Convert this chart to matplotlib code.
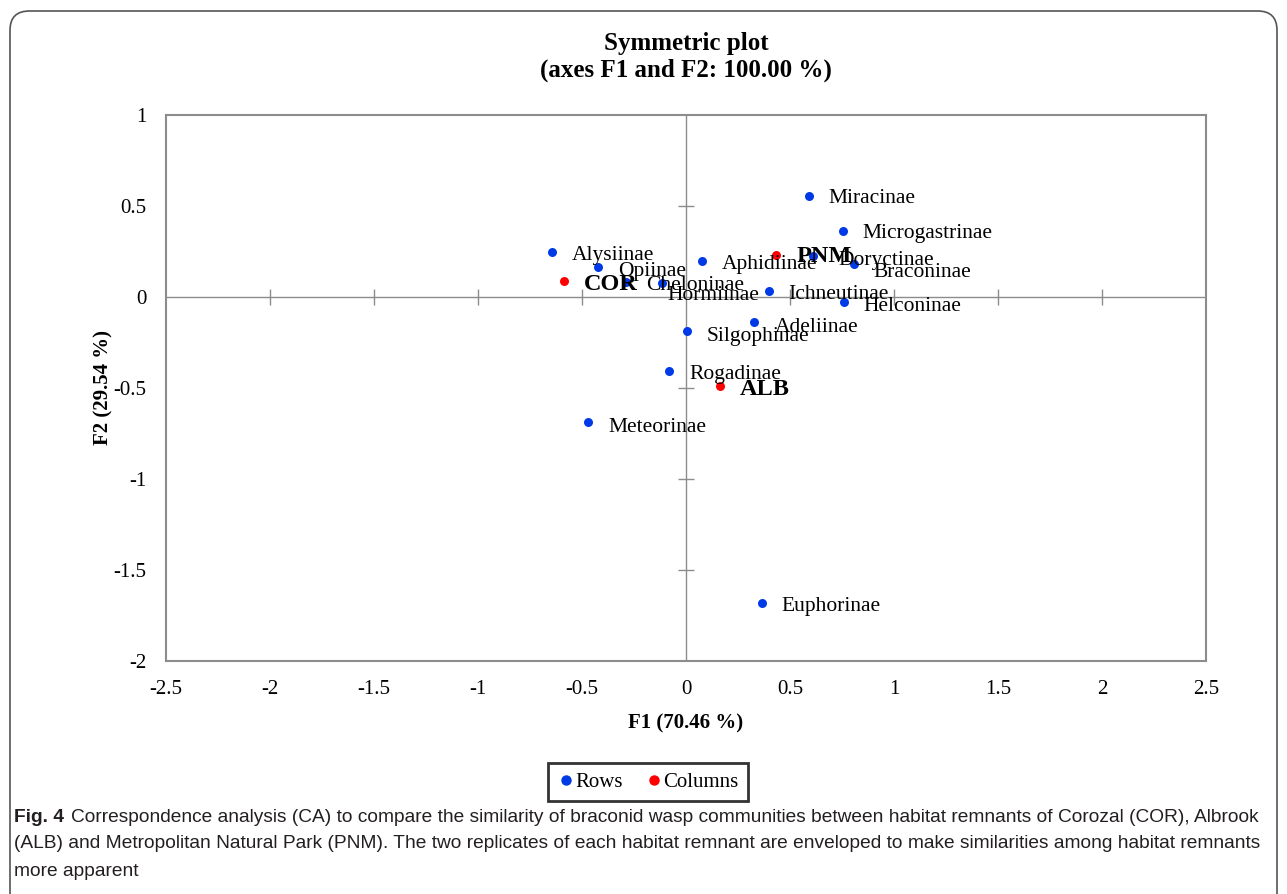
import numpy as np
import matplotlib
matplotlib.use('Agg')
import matplotlib.pyplot as plt
from matplotlib.patches import FancyBboxPatch
from matplotlib.lines import Line2D

# row points (subfamilies)
row_names = ['Miracinae', 'Microgastrinae', 'Alysiinae', 'Opiinae', 'Aphidiinae',
             'Doryctinae', 'Braconinae', 'Cheloninae', 'Hormiinae', 'Ichneutinae',
             'Helconinae', 'Adeliinae', 'Silgophinae', 'Rogadinae', 'Meteorinae',
             'Euphorinae']
row_f1 = [0.591, 0.753, -0.646, -0.422, 0.075, 0.611, 0.808, -0.288, -0.117, 0.399,
          0.761, 0.327, 0.005, -0.082, -0.471, 0.365]
row_f2 = [0.557, 0.364, 0.246, 0.166, 0.199, 0.225, 0.181, 0.084, 0.079, 0.033,
          -0.029, -0.139, -0.187, -0.407, -0.687, -1.681]

# column points (habitat remnants)
col_names = ['PNM', 'COR', 'ALB']
col_f1 = [0.433, -0.587, 0.163]
col_f2 = [0.232, 0.088, -0.489]

xticks = [-2.5, -2, -1.5, -1, -0.5, 0, 0.5, 1, 1.5, 2, 2.5]
yticks = [-2, -1.5, -1, -0.5, 0, 0.5, 1]

# label offsets in pixels (label placement as in the original)
row_off = [(20, -3), (20, -3), (20, -3), (20, -5), (20, -4), (25, -4), (19, -8),
           (20, -4), (6, -13), (19, -4), (19, -4), (21, -5), (20, -5), (20, -3),
           (20, -5), (20, -4)]
col_off = [(20, -2), (20, -4), (20, -4)]

blue = '#0039e6'
red = '#ff0000'
grey = '#8c8c8c'
serif = ['Liberation Serif', 'DejaVu Serif']
cap_font = ['Liberation Sans', 'DejaVu Sans']

fig = plt.figure(figsize=(12.87, 8.94), dpi=100)
ax = fig.add_axes([166 / 1287, 1 - 661 / 894, 1040 / 1287, 546 / 894])

ax.set_xlim(-2.5, 2.5)
ax.set_ylim(-2, 1)
ax.set_xticks(xticks)
ax.set_yticks(yticks)
ax.set_xticklabels([f'{t:g}' for t in xticks], fontfamily=serif, fontsize=15)
ax.set_yticklabels([f'{t:g}' for t in yticks], fontfamily=serif, fontsize=15)
ax.tick_params(axis='x', length=0, pad=14)
ax.tick_params(axis='y', length=0, pad=14)
for s in ax.spines.values():
    s.set_color(grey)
    s.set_linewidth(1.5)

# zero axes with tick marks
ax.axhline(0, color=grey, lw=1, zorder=1)
ax.axvline(0, color=grey, lw=1, zorder=1)
inner_x = [t for t in xticks if t not in (0, -2.5, 2.5)]
inner_y = [t for t in yticks if t not in (0, -2, 1)]
ax.plot(inner_x, np.zeros(len(inner_x)), ls='none', marker='|', ms=12, mew=1,
        color=grey, zorder=1)
ax.plot(np.zeros(len(inner_y)), inner_y, ls='none', marker='_', ms=12, mew=1,
        color=grey, zorder=1)

ax.scatter(row_f1, row_f2, s=42, color=blue, zorder=3, linewidths=0)
ax.scatter(col_f1, col_f2, s=42, color=red, zorder=3, linewidths=0)

for n, x, y, o in zip(row_names, row_f1, row_f2, row_off):
    ax.annotate(n, (x, y), xytext=o, textcoords='offset pixels', va='center',
                ha='left', fontsize=15.5, fontfamily=serif, zorder=4)
for n, x, y, o in zip(col_names, col_f1, col_f2, col_off):
    ax.annotate(n, (x, y), xytext=o, textcoords='offset pixels', va='center',
                ha='left', fontsize=17.5, fontweight='bold', fontfamily=serif, zorder=4)

fig.text(686 / 1287, 1 - 57 / 894, 'Symmetric plot\n(axes F1 and F2: 100.00 %)',
         ha='center', va='center', fontsize=18, fontweight='bold', fontfamily=serif,
         linespacing=1.25)
ax.set_xlabel('F1 (70.46 %)', fontsize=15, fontweight='bold', fontfamily=serif,
              labelpad=10)
ax.set_ylabel('F2 (29.54 %)', fontsize=15, fontweight='bold', fontfamily=serif,
              labelpad=0)

handles = [Line2D([], [], ls='none', marker='o', ms=6.5, color=blue, label='Rows'),
           Line2D([], [], ls='none', marker='o', ms=6.5, color=red, label='Columns')]
leg = fig.legend(handles=handles, loc='center', bbox_to_anchor=(648 / 1287, 1 - 782 / 894),
                 ncol=2, frameon=True, fancybox=False, handletextpad=0.05,
                 columnspacing=1.1, handlelength=0.8, borderpad=0.45,
                 prop={'family': serif, 'size': 15})
leg.get_frame().set_edgecolor('black')
leg.get_frame().set_linewidth(2)

# outer rounded frame
frame = FancyBboxPatch((10 / 1287, -0.02), 1267 / 1287, 1 - 11 / 894 + 0.02,
                       boxstyle='round,pad=0,rounding_size=0.015',
                       transform=fig.transFigure, fill=False, edgecolor='#555555',
                       lw=1.2, mutation_aspect=1287 / 894)
fig.patches.append(frame)

# caption
cap_color = '#231f20'
cap_size = 13.8
fig.canvas.draw()
bold = fig.text(14 / 1287, 1 - 817 / 894, 'Fig. 4', fontsize=cap_size, fontweight='bold',
                fontfamily=cap_font, color=cap_color, va='center')
bb = bold.get_window_extent(fig.canvas.get_renderer())
fig.text((bb.x1 + 7) / 1287, 1 - 817 / 894,
         'Correspondence analysis (CA) to compare the similarity of braconid wasp '
         'communities between habitat remnants of Corozal (COR), Albrook',
         fontsize=cap_size, fontfamily=cap_font, color=cap_color, va='center')
fig.text(14 / 1287, 1 - 844 / 894,
         '(ALB) and Metropolitan Natural Park (PNM). The two replicates of each habitat '
         'remnant are enveloped to make similarities among habitat remnants',
         fontsize=cap_size, fontfamily=cap_font, color=cap_color, va='center')
fig.text(14 / 1287, 1 - 871 / 894, 'more apparent',
         fontsize=cap_size, fontfamily=cap_font, color=cap_color, va='center')

fig.savefig('out.png', dpi=100)
